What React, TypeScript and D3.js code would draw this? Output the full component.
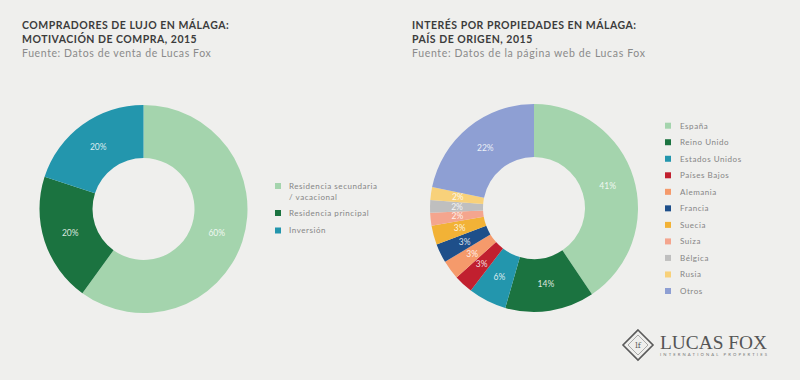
import React from "react";
import * as d3 from "d3";

const motivoLabels = ["Residencia secundaria / vacacional", "Residencia principal", "Inversión"];
const motivoLegendLines = [["Residencia secundaria", "/ vacacional"], ["Residencia principal"], ["Inversión"]];
const motivoValues = [60, 20, 20];
const motivoColors = ["#a4d4ad", "#1b7340", "#2396ad"];

const paisLabels = ["España", "Reino Unido", "Estados Unidos", "Países Bajos", "Alemania", "Francia", "Suecia", "Suiza", "Bélgica", "Rusia", "Otros"];
const paisValues = [41, 14, 6, 3, 3, 3, 3, 2, 2, 2, 22];
const paisColors = ["#a4d4ad", "#1b7340", "#2396ad", "#c1202f", "#f59a6b", "#1e4f8a", "#f2b236", "#f4a58e", "#bfbfbf", "#f8d17a", "#8e9fd3"];

const FONT = "Lato, 'Open Sans', sans-serif";

function Donut({ cx, cy, values, colors }: { cx: number; cy: number; values: number[]; colors: string[] }) {
  const pie = d3.pie<number>().sort(null).value((d) => d);
  const arcs = pie(values);
  const arc = d3.arc<d3.PieArcDatum<number>>().innerRadius(51).outerRadius(104);
  const labelArc = d3.arc<d3.PieArcDatum<number>>().innerRadius(77).outerRadius(77);
  return (
    <g transform={`translate(${cx},${cy})`}>
      {arcs.map((a, i) => (
        <path key={i} d={arc(a) || ""} fill={colors[i]} />
      ))}
      {arcs.map((a, i) => {
        const [x, y] = labelArc.centroid(a);
        return (
          <text key={"t" + i} x={x} y={y} dy="0.35em" textAnchor="middle" fill="#ffffff" fillOpacity={0.85} fontSize={8.5} fontFamily={FONT}>
            {values[i]}%
          </text>
        );
      })}
    </g>
  );
}

export default function App() {
  return (
    <svg width={800} height={380} style={{ position: "absolute", left: 0, top: 0, background: "#efefed" }}>
      <rect width={800} height={380} fill="#efefed" />
      <g fontFamily={FONT}>
        <text x={22} y={28.5} fontSize={10.5} fontWeight={700} fill="#3c3c3c" letterSpacing={0.5}>COMPRADORES DE LUJO EN MÁLAGA:</text>
        <text x={22} y={42.5} fontSize={10.5} fontWeight={700} fill="#3c3c3c" letterSpacing={0.5}>MOTIVACIÓN DE COMPRA, 2015</text>
        <text x={22} y={57} fontSize={10.5} fill="#8a8a8a" letterSpacing={0.6}>Fuente: Datos de venta de Lucas Fox</text>
        <text x={412} y={28.5} fontSize={10.5} fontWeight={700} fill="#3c3c3c" letterSpacing={0.5}>INTERÉS POR PROPIEDADES EN MÁLAGA:</text>
        <text x={412} y={42.5} fontSize={10.5} fontWeight={700} fill="#3c3c3c" letterSpacing={0.5}>PAÍS DE ORIGEN, 2015</text>
        <text x={412} y={57} fontSize={10.5} fill="#8a8a8a" letterSpacing={0.65}>Fuente: Datos de la página web de Lucas Fox</text>
      </g>

      <Donut cx={143.5} cy={209} values={motivoValues} colors={motivoColors} />
      <Donut cx={534} cy={208} values={paisValues} colors={paisColors} />

      <g fontFamily={FONT} fontSize={8} fill="#858585" letterSpacing={0.55}>
        {motivoLabels.map((lab, i) => {
          const ys = [186, 213, 230.5];
          return (
            <g key={lab}>
              <rect x={275} y={ys[i] - 3} width={6} height={6} fill={motivoColors[i]} />
              {motivoLegendLines[i].map((ln, j) => (
                <text key={j} x={289} y={ys[i] + j * 11} dy="0.35em">{ln}</text>
              ))}
            </g>
          );
        })}
      </g>

      <g fontFamily={FONT} fontSize={8} fill="#858585" letterSpacing={0.55}>
        {paisLabels.map((lab, i) => {
          const y = 125.7 + i * 16.53;
          return (
            <g key={lab}>
              <rect x={665} y={y - 3} width={6} height={6} fill={paisColors[i]} />
              <text x={680} y={y} dy="0.35em">{lab}</text>
            </g>
          );
        })}
      </g>

      <g>
        <path d="M638,330 L653,345 L638,360 L623,345 Z" fill="none" stroke="#5a5a5a" strokeWidth={1.6} />
        <path d="M638,335 L648,345 L638,355 L628,345 Z" fill="none" stroke="#7a7a7a" strokeWidth={0.6} />
        <text x={638} y={348} textAnchor="middle" fontFamily="'DejaVu Serif', serif" fontSize={8} fill="#5a5a5a">lf</text>
        <text x={660} y={349} fontFamily="'Liberation Serif', 'DejaVu Serif', serif" fontSize={19} fill="#555555" textLength={107} lengthAdjust="spacingAndGlyphs">LUCAS FOX</text>
        <text x={660} y={356} fontFamily={FONT} fontSize={4.2} fill="#777777" textLength={107} lengthAdjust="spacing">INTERNATIONAL PROPERTIES</text>
      </g>
    </svg>
  );
}
